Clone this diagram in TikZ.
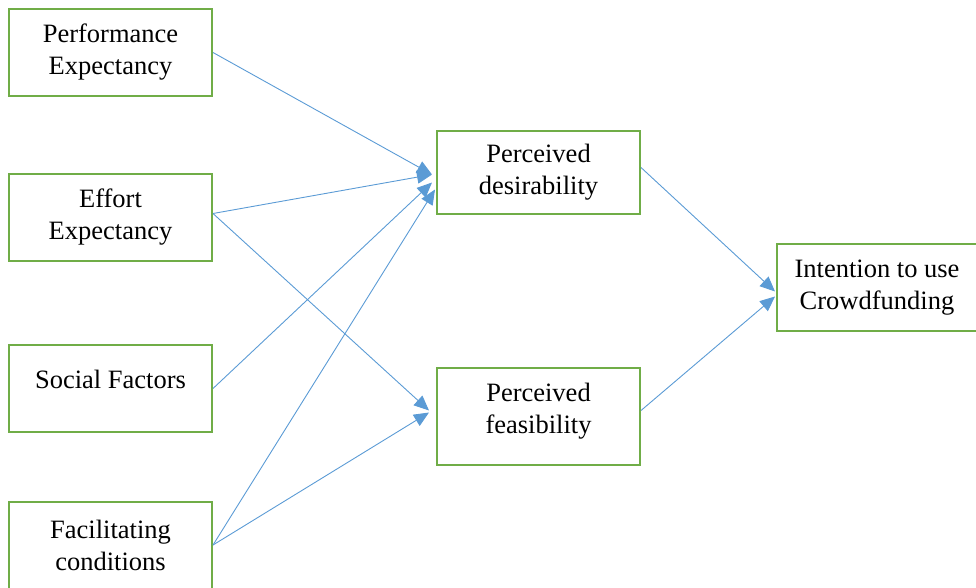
\documentclass[tikz,border=0pt]{standalone}
\usepackage{fontspec}
\setmainfont{Liberation Serif}
\usetikzlibrary{arrows.meta}
\definecolor{boxgreen}{HTML}{70AD47}
\definecolor{arrblue}{HTML}{5B9BD5}
\begin{document}
\begin{tikzpicture}[x=1pt,y=-1pt,
  box/.style={draw=boxgreen,line width=2pt,minimum width=203pt,minimum height=87pt,
    align=center,inner sep=0pt,font=\fontsize{26.5}{32}\selectfont},
  conn/.style={draw=arrblue,line width=0.9pt,-{Triangle[length=15pt,width=13pt]}}]
\useasboundingbox (0,0) rectangle (976,587);
\node[box] (pe) at (110.5,52.5) {Performance\\Expectancy};
\node[box] (ee) at (110.5,217.5) {Effort\\Expectancy};
\node[box,text depth=18pt] (sf) at (110.5,388.5) {Social Factors};
\node[box] (fc) at (110.5,545) {Facilitating\\conditions};
\node[box,minimum height=83pt] (pd) at (538.5,172.5) {Perceived\\desirability};
\node[box,minimum height=97pt,text depth=17pt] (pf) at (538.5,416.5) {Perceived\\feasibility};
\node[box,minimum width=200pt] (ic) at (877,287.5) {Intention to use\\Crowdfunding};
\draw[conn] (pe.east) -- ([xshift=-4pt,yshift=-2pt]pd.west);
\draw[conn] ([yshift=4pt]ee.east) -- ([xshift=-4pt,yshift=-2pt]pd.west);
\draw[conn] (sf.east) -- ([xshift=-4pt,yshift=-10pt]pd.west);
\draw[conn] (fc.east) -- ([xshift=-1pt,yshift=-17pt]pd.west);
\draw[conn] ([yshift=4pt]ee.east) -- ([xshift=-7pt,yshift=6pt]pf.west);
\draw[conn] (fc.east) -- ([xshift=-7pt,yshift=4pt]pf.west);
\draw[conn] ([yshift=5pt]pd.east) -- ([xshift=-1pt,yshift=-4pt]ic.west);
\draw[conn] ([yshift=6pt]pf.east) -- ([xshift=-1pt,yshift=-9pt]ic.west);
\end{tikzpicture}
\end{document}
